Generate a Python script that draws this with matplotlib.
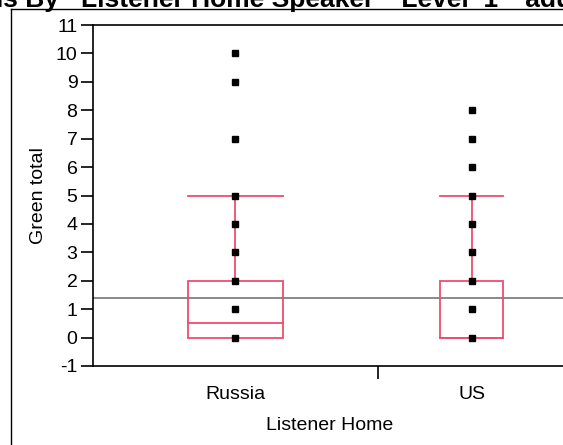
import matplotlib
matplotlib.use('Agg')
import matplotlib.pyplot as plt
from matplotlib.patches import Rectangle
from matplotlib.lines import Line2D

plt.rcParams['font.family'] = ['Liberation Sans', 'DejaVu Sans']

# data
categories = ['Russia', 'US']
group_n = [62, 41]          # group sizes (widths of the x sections)
q1 = [0, 0]
medians = [0.5, 0]
q3 = [2, 2]
whisk_hi = [5, 5]
points = [[0, 1, 2, 3, 4, 5, 7, 9, 10],
          [0, 1, 2, 3, 4, 5, 6, 7, 8]]
grand_mean = 1.4
yticks = list(range(-1, 12))

W, H = 563, 445
fig = plt.figure(figsize=(W / 100, H / 100), dpi=100)

# outer frame and cropped title
fig.add_artist(Line2D([11 / W, 11 / W], [0, 1 - 9 / H], color='black', lw=1.0, transform=fig.transFigure))
fig.add_artist(Line2D([11 / W, 1], [1 - 9 / H, 1 - 9 / H], color='black', lw=1.0, transform=fig.transFigure))
fig.text(-13 / W, 1 - 7 / H, 'ns By   Listener Home Speaker  "Level  1"  adult',
         ha='left', va='baseline', fontsize=19, fontweight='bold')

ax = fig.add_axes([92.7 / W, 79 / H, (566 - 92.7) / W, (366 - 25) / H])
total = sum(group_n)
ax.set_xlim(0, total)
ax.set_ylim(-1, 11)

red = '#ef4d6d'
left = 0
bounds = []
centers = []
for i, n in enumerate(group_n):
    c = left + n / 2
    centers.append(c)
    bw = n / 3
    x0 = c - bw / 2
    ax.add_patch(Rectangle((x0, q1[i]), bw, q3[i] - q1[i], fill=False, ec=red, lw=1.3, zorder=3))
    ax.plot([x0, x0 + bw], [medians[i], medians[i]], color=red, lw=1.3, zorder=3)
    ax.plot([c, c], [q3[i], whisk_hi[i]], color=red, lw=1.3, zorder=3)
    ax.plot([x0, x0 + bw], [whisk_hi[i], whisk_hi[i]], color=red, lw=1.3, zorder=3)
    ax.plot([c] * len(points[i]), points[i], ls='none', marker='s', ms=3.8,
            color='black', zorder=4)
    left += n
    bounds.append(left)

ax.axhline(grand_mean, color='#808080', lw=1.3, zorder=2)

ax.set_yticks(yticks)
ax.set_yticklabels([str(t) for t in yticks])
ax.set_xticks(bounds[:-1])
ax.set_xticklabels([])
ax.tick_params(axis='both', direction='out', length=9, width=1.2, labelsize=14, pad=2)
for i, c in enumerate(centers):
    ax.text(c, -2.0, categories[i], ha='center', va='center', fontsize=14)
ax.text(total / 2, -3.1, 'Listener Home', ha='center', va='center', fontsize=14)
ax.set_ylabel('Green total', fontsize=14, labelpad=6)

for s in ['top', 'left', 'bottom']:
    ax.spines[s].set_linewidth(1.2)
ax.spines['right'].set_visible(False)

fig.savefig('out.png', dpi=100)
